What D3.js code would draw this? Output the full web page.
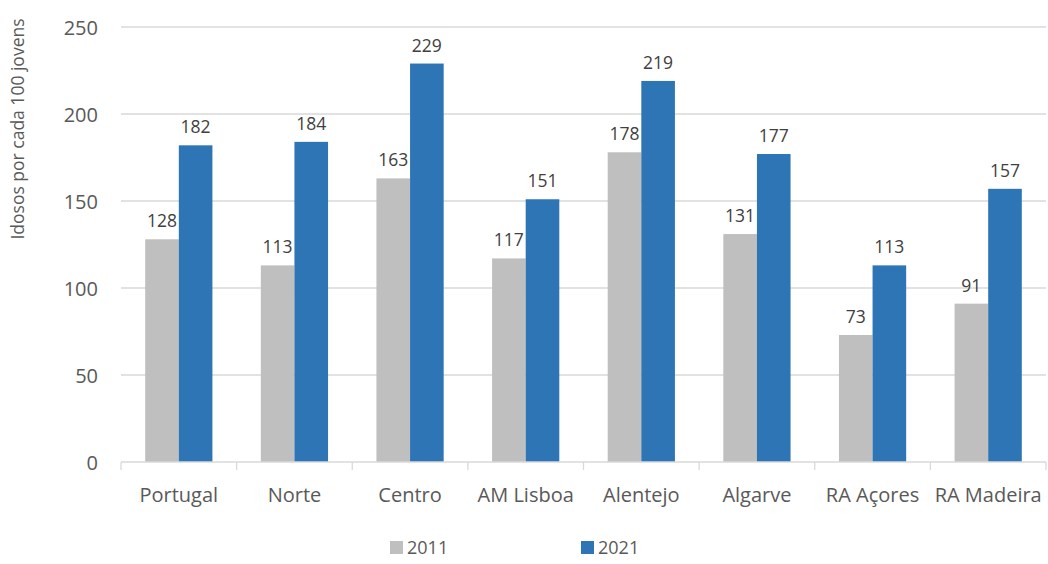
<!DOCTYPE html>
<html>
<head>
<meta charset="utf-8">
<script src="https://cdn.jsdelivr.net/npm/d3@7"></script>
<style>
  body { margin: 0; background: #fff; }
  svg { display: block; font-family: "Open Sans", "Liberation Sans", sans-serif; }
</style>
</head>
<body>
<svg id="chart" width="1048" height="564"></svg>
<script>
const regions = ['Portugal', 'Norte', 'Centro', 'AM Lisboa', 'Alentejo', 'Algarve', 'RA Açores', 'RA Madeira'];
const years = ['2011', '2021'];
const values2011 = [128, 113, 163, 117, 178, 131, 73, 91];
const values2021 = [182, 184, 229, 151, 219, 177, 113, 157];
const yTicks = [0, 50, 100, 150, 200, 250];
const yTitle = 'Idosos por cada 100 jovens';

const colors = { '2011': '#bfbfbf', '2021': '#2e75b6' };
const series = { '2011': values2011, '2021': values2021 };

const svg = d3.select('#chart');
const margin = { left: 121, right: 2, top: 27, bottom: 102 };
const width = 1048, height = 564;

const x = d3.scaleBand()
  .domain(regions)
  .range([margin.left, width - margin.right]);

const xInner = d3.scaleBand()
  .domain(years)
  .range([0, x.bandwidth()])
  .paddingOuter(0.72)
  .paddingInner(0);

const y = d3.scaleLinear()
  .domain([0, 250])
  .range([height - margin.bottom, margin.top]);

// gridlines
svg.append('g')
  .selectAll('line')
  .data(yTicks.filter(d => d > 0))
  .join('line')
  .attr('x1', margin.left)
  .attr('x2', width - margin.right)
  .attr('y1', d => y(d))
  .attr('y2', d => y(d))
  .attr('stroke', '#d9d9d9')
  .attr('stroke-width', 1.3);

// y axis labels
svg.append('g')
  .selectAll('text')
  .data(yTicks)
  .join('text')
  .attr('x', 98)
  .attr('y', d => y(d))
  .attr('text-anchor', 'end')
  .attr('dominant-baseline', 'central')
  .attr('fill', '#595959')
  .style('font-size', '20px')
  .text(d => d);

// bars
const groups = svg.append('g')
  .selectAll('g')
  .data(regions)
  .join('g')
  .attr('transform', d => `translate(${x(d)},0)`);

groups.selectAll('rect')
  .data((d, i) => years.map(yr => ({ yr, v: series[yr][i] })))
  .join('rect')
  .attr('x', d => xInner(d.yr))
  .attr('width', xInner.bandwidth())
  .attr('y', d => y(d.v))
  .attr('height', d => y(0) - y(d.v))
  .attr('fill', d => colors[d.yr]);

groups.selectAll('text')
  .data((d, i) => years.map(yr => ({ yr, v: series[yr][i] })))
  .join('text')
  .attr('x', d => xInner(d.yr) + xInner.bandwidth() / 2)
  .attr('y', d => y(d.v) - 12)
  .attr('text-anchor', 'middle')
  .attr('fill', '#404040')
  .style('font-size', '17.5px')
  .text(d => d.v);

// x axis
const xAxis = svg.append('g')
  .attr('transform', `translate(0,${y(0)})`);
xAxis.append('line')
  .attr('x1', margin.left)
  .attr('x2', width - margin.right)
  .attr('stroke', '#d9d9d9')
  .attr('stroke-width', 1.3);
xAxis.selectAll('.tick')
  .data(regions.concat(['end']))
  .join('line')
  .attr('x1', (d, i) => margin.left + i * x.bandwidth())
  .attr('x2', (d, i) => margin.left + i * x.bandwidth())
  .attr('y1', 0)
  .attr('y2', 8)
  .attr('stroke', '#d9d9d9')
  .attr('stroke-width', 1.3);
xAxis.selectAll('text')
  .data(regions)
  .join('text')
  .attr('x', d => x(d) + x.bandwidth() / 2)
  .attr('y', 40)
  .attr('text-anchor', 'middle')
  .attr('fill', '#595959')
  .style('font-size', '20px')
  .text(d => d);

// y title
svg.append('text')
  .attr('transform', 'translate(24,129) rotate(-90)')
  .attr('text-anchor', 'middle')
  .attr('fill', '#595959')
  .style('font-size', '17.5px')
  .text(yTitle);

// legend
const legendX = { '2011': 390, '2021': 581 };
const legend = svg.append('g')
  .selectAll('g')
  .data(years)
  .join('g')
  .attr('transform', d => `translate(${legendX[d]},541)`);
legend.append('rect')
  .attr('width', 13)
  .attr('height', 13)
  .attr('fill', d => colors[d]);
legend.append('text')
  .attr('x', 17)
  .attr('y', 13)
  .attr('fill', '#595959')
  .style('font-size', '18px')
  .text(d => d);
</script>
</body>
</html>
